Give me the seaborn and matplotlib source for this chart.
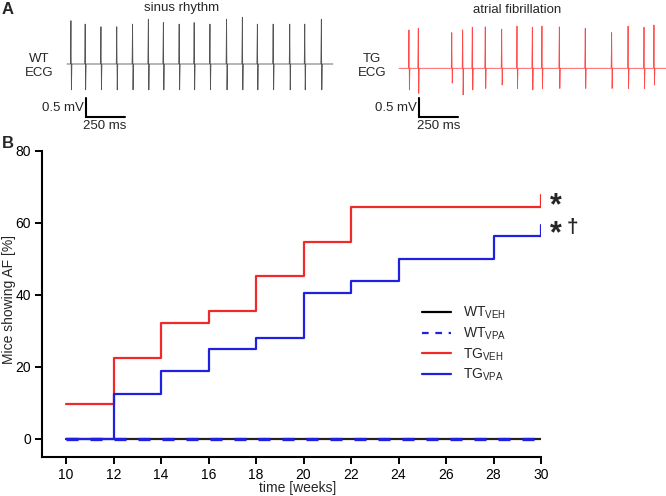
import matplotlib
matplotlib.use("Agg")
import matplotlib.pyplot as plt
import seaborn as sns
from matplotlib.lines import Line2D

# ---------------- data ----------------
# Panel B: cumulative % of mice showing AF
weeks_tg_veh = [10, 12, 14, 16, 18, 20, 22, 30, 30]
af_tg_veh = [9.7, 22.6, 32.3, 35.5, 45.2, 54.8, 64.5, 64.5, 67.7]
weeks_tg_vpa = [10, 12, 14, 16, 18, 20, 22, 24, 28, 30, 30]
af_tg_vpa = [0.0, 12.5, 18.75, 25.0, 28.1, 40.6, 43.75, 50.0, 56.25, 56.25, 59.4]
weeks_wt = [10, 30]
af_wt_veh = [0, 0]
af_wt_vpa = [0, 0]
x_ticks = [10, 12, 14, 16, 18, 20, 22, 24, 26, 28, 30]
y_ticks = [0, 20, 40, 60, 80]
legend_labels = [r"WT$_\mathregular{VEH}$", r"WT$_\mathregular{VPA}$",
                 r"TG$_\mathregular{VEH}$", r"TG$_\mathregular{VPA}$"]

# Panel A: ECG R-spike times (ms), peak (mV) and trough (mV)
wt_spike_ms = [25, 115, 215, 315, 415, 515, 610, 710, 805, 905, 1010, 1110, 1205, 1305, 1410, 1505, 1610]
wt_spike_top = [1.14, 1.05, 0.98, 0.98, 1.05, 1.18, 1.09, 1.05, 1.09, 1.05, 1.18, 1.23, 1.05, 1.05, 1.05, 1.05, 1.18]
wt_spike_bottom = [-0.68, -0.68, -0.68, -0.68, -0.68, -0.68, -0.68, -0.68, -0.68, -0.68, -0.68, -0.68, -0.68, -0.68, -0.68, -0.68, -0.68]
wt_end_ms = 1684
tg_spike_ms = [63, 122, 334, 403, 464, 546, 650, 747, 844, 905, 1015, 1179, 1346, 1450, 1551, 1614]
tg_spike_top = [1.01, 1.05, 0.94, 1.01, 1.08, 1.09, 1.03, 1.11, 1.08, 1.11, 1.09, 1.05, 0.94, 1.11, 1.08, 1.14]
tg_spike_bottom = [-0.57, -0.66, -0.39, -0.70, -0.57, -0.53, -0.44, -0.53, -0.57, -0.53, -0.53, -0.53, -0.53, -0.53, -0.53, -0.44]
tg_end_ms = 1700

RED = "#f02a2a"
BLUE = "#2020e0"

sns.set_style("white")
plt.rcParams["font.family"] = ["Liberation Sans", "DejaVu Sans"]
plt.rcParams["mathtext.fontset"] = "custom"
plt.rcParams["mathtext.rm"] = "Liberation Sans"

W, H = 666, 496
fig = plt.figure(figsize=(W / 100, H / 100), dpi=100)


def fx(px):
    return px / W


def fy(py):
    return 1 - py / H


def build_trace(times, tops, bottoms, end):
    xs, ys = [0], [0.0]
    for t, a, b in zip(times, tops, bottoms):
        xs += [t - 3, t, t + 3, t + 6]
        ys += [0.0, a, b, 0.0]
    xs.append(end)
    ys.append(0.0)
    return xs, ys


MS_PER_PX = 6.33
PX_PER_MV = 38.0

# ---------------- Panel A left (WT) ----------------
axL = fig.add_axes([fx(0), fy(135), fx(340), 135 / H])
axL.set_xlim((0 - 67) * MS_PER_PX, (340 - 67) * MS_PER_PX)
axL.set_ylim((64 - 135) / PX_PER_MV, (64 - 0) / PX_PER_MV)
xs, ys = build_trace(wt_spike_ms, wt_spike_top, wt_spike_bottom, wt_end_ms)
sns.lineplot(x=xs, y=ys, ax=axL, estimator=None, sort=False, color="#555555", lw=0.6)
sb_x0 = (86 - 67) * MS_PER_PX
sb_y0 = (64 - 117) / PX_PER_MV
axL.plot([sb_x0, sb_x0, sb_x0 + 250], [sb_y0 + 0.5, sb_y0, sb_y0], color="black", lw=1.5,
         solid_joinstyle="miter")
axL.axis("off")

# ---------------- Panel A right (TG) ----------------
axR = fig.add_axes([fx(333), fy(135), fx(666 - 333), 135 / H])
axR.set_xlim((333 - 399) * MS_PER_PX, (666 - 399) * MS_PER_PX)
axR.set_ylim((68.3 - 135) / PX_PER_MV, (68.3 - 0) / PX_PER_MV)
xs, ys = build_trace(tg_spike_ms, tg_spike_top, tg_spike_bottom, tg_end_ms)
sns.lineplot(x=xs, y=ys, ax=axR, estimator=None, sort=False, color="#ff4a4a", lw=0.6)
sb_x0 = (419 - 399) * MS_PER_PX
sb_y0 = (68.3 - 117) / PX_PER_MV
axR.plot([sb_x0, sb_x0, sb_x0 + 250], [sb_y0 + 0.5, sb_y0, sb_y0], color="black", lw=1.5,
         solid_joinstyle="miter")
axR.axis("off")

# Panel A texts
fig.text(fx(2), fy(10), "A", fontsize=12, fontweight="bold", va="center", ha="left")
fig.text(fx(182), fy(8), "sinus rhythm", fontsize=9.5, ha="center", va="center")
fig.text(fx(517), fy(10), "atrial fibrillation", fontsize=9.5, ha="center", va="center")
fig.text(fx(39), fy(66), "WT\nECG", fontsize=9.5, ha="center", va="center", linespacing=1.15)
fig.text(fx(372), fy(66), "TG\nECG", fontsize=9.5, ha="center", va="center", linespacing=1.15)
fig.text(fx(84), fy(108), "0.5 mV", fontsize=9.5, ha="right", va="center")
fig.text(fx(83), fy(126), "250 ms", fontsize=9.5, ha="left", va="center")
fig.text(fx(417), fy(108), "0.5 mV", fontsize=9.5, ha="right", va="center")
fig.text(fx(417), fy(126), "250 ms", fontsize=9.5, ha="left", va="center")

# ---------------- Panel B ----------------
axB = fig.add_axes([fx(42.3), fy(457), fx(541 - 42.3), (457 - 150.7) / H])
sns.lineplot(x=weeks_wt, y=af_wt_veh, ax=axB, estimator=None, sort=False,
             color="#222222", lw=1.6, zorder=2)
sns.lineplot(x=weeks_wt, y=af_wt_vpa, ax=axB, estimator=None, sort=False,
             color=BLUE, lw=2.4, zorder=3, linestyle=(0.0, (3.6, 3.6)))
sns.lineplot(x=weeks_tg_veh, y=af_tg_veh, ax=axB, estimator=None, sort=False,
             color=RED, lw=1.6, drawstyle="steps-post", zorder=4)
sns.lineplot(x=weeks_tg_vpa, y=af_tg_vpa, ax=axB, estimator=None, sort=False,
             color=BLUE, lw=1.6, drawstyle="steps-post", zorder=5)

axB.set_xlim(9, 30)
axB.set_ylim(-5, 80)
axB.set_xticks(x_ticks)
axB.set_yticks(y_ticks)
axB.tick_params(axis="both", direction="out", length=5, width=1.4, labelsize=10,
                color="black", labelcolor="black", bottom=True, left=True, pad=3)
for side in ["top", "right"]:
    axB.spines[side].set_visible(False)
for side in ["left", "bottom"]:
    axB.spines[side].set_linewidth(1.5)
    axB.spines[side].set_color("black")
axB.grid(False)
axB.set_xlabel("")
axB.set_ylabel("")

fig.text(fx(2), fy(143), "B", fontsize=12, fontweight="bold", va="center", ha="left")
fig.text(fx(298), fy(488), "time [weeks]", fontsize=10, ha="center", va="center")
fig.text(fx(9), fy(300), "Mice showing AF [%]", fontsize=10, ha="center", va="center",
         rotation=90)

# significance markers
fig.text(fx(556), fy(206), "*", fontsize=22, fontweight="bold", ha="center", va="center")
fig.text(fx(556), fy(234), "*", fontsize=22, fontweight="bold", ha="center", va="center")
fig.text(fx(572), fy(228), "\u2020", fontsize=15, fontweight="bold", ha="center", va="center")

handles = [
    Line2D([], [], color="black", lw=1.6),
    Line2D([], [], color=BLUE, lw=1.6, linestyle=(0, (3, 3))),
    Line2D([], [], color=RED, lw=1.6),
    Line2D([], [], color=BLUE, lw=1.6),
]
fig.legend(handles, legend_labels, loc="upper left",
           bbox_to_anchor=(fx(422), fy(305)), frameon=False, fontsize=10,
           borderpad=0, borderaxespad=0, handlelength=2.1, handletextpad=0.85,
           labelspacing=0.3)

fig.savefig("out.png", dpi=100)
